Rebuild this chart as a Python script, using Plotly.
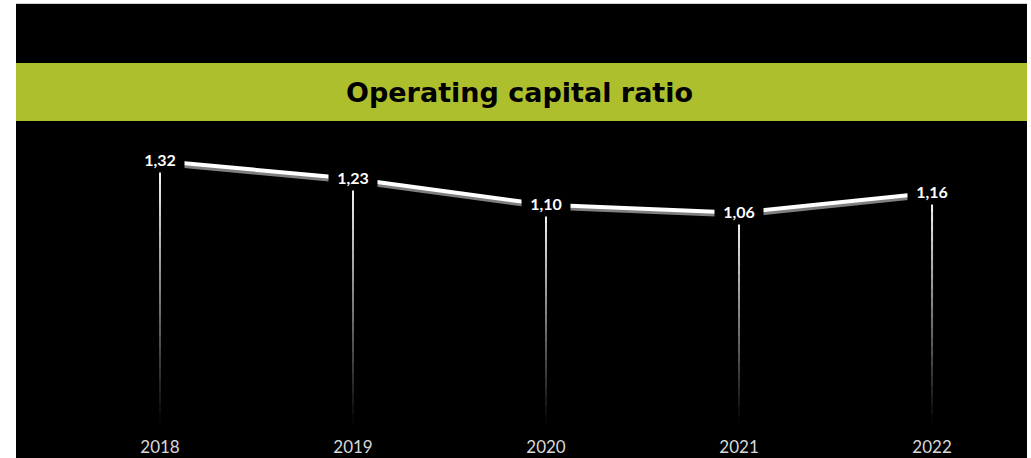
import plotly.graph_objects as go

# Operating capital ratio by year
years = ["2018", "2019", "2020", "2021", "2022"]
ratios = [1.32, 1.23, 1.10, 1.06, 1.16]
title_text = "Operating capital ratio"

W, H = 1031, 458
GREEN = "#AEBF2E"

fig = go.Figure()

# Drop lines from the baseline up to each value, fading from black to white
steps = 24
for k in range(steps):
    level = int(round(255 * (k + 0.5) / steps))
    col = f"rgb({level},{level},{level})"
    xs, ys = [], []
    for yr, v in zip(years, ratios):
        xs += [yr, yr, None]
        ys += [v * k / steps, v * min(k + 1.6, steps) / steps, None]
    fig.add_trace(go.Scatter(x=xs, y=ys, mode="lines",
                             line=dict(color=col, width=2),
                             hoverinfo="skip", showlegend=False))

# Soft grey shadow under the main line
shadow_offset = 0.014
fig.add_trace(go.Scatter(x=years, y=[v - shadow_offset for v in ratios], mode="lines",
                         line=dict(color="#7f7f7f", width=4),
                         hoverinfo="skip", showlegend=False))
# Main line
fig.add_trace(go.Scatter(x=years, y=ratios, mode="lines",
                         line=dict(color="#ffffff", width=4),
                         showlegend=False))

# Value labels on black boxes (category index positions)
for i, v in enumerate(ratios):
    fig.add_annotation(x=i, y=v, xref="x", yref="y",
                       text=f"<b>{v:.2f}</b>".replace(".", ","),
                       showarrow=False, bgcolor="#000000",
                       width=42, height=19, borderpad=3,
                       xanchor="center", yanchor="middle", yshift=1,
                       font=dict(family="Lato", size=16, color="#ffffff"))

# Title band
fig.add_annotation(x=519 / W, y=1 - 92 / H, xref="paper", yref="paper",
                   text=f"<b>{title_text}</b>", showarrow=False,
                   xanchor="center", yanchor="middle",
                   font=dict(family="DejaVu Sans", size=27, color="#000000"))

fig.update_layout(
    width=W, height=H,
    margin=dict(l=0, r=0, t=0, b=0),
    paper_bgcolor="#ffffff",
    plot_bgcolor="rgba(0,0,0,0)",
    shapes=[
        dict(type="rect", xref="paper", yref="paper", layer="below",
             x0=16 / W, x1=1027 / W, y0=0, y1=1 - 4 / H,
             fillcolor="#000000", line=dict(width=0)),
        dict(type="line", xref="paper", yref="paper", layer="below",
             x0=16 / W, x1=1027 / W, y0=1 - 3.5 / H, y1=1 - 3.5 / H,
             line=dict(color="#cfcfcf", width=1)),
        dict(type="rect", xref="paper", yref="paper", layer="below",
             x0=16 / W, x1=1027 / W, y0=1 - 121 / H, y1=1 - 63 / H,
             fillcolor=GREEN, line=dict(width=0)),
    ],
    xaxis=dict(domain=[16 / W, 1027 / W], range=[-0.746, 4.492],
               type="category", showgrid=False, zeroline=False, showline=False,
               ticks="", tickfont=dict(family="Lato", size=17, color="#d9d9d9"),
               ticklabelstandoff=11),
    yaxis=dict(domain=[(H - 424) / H, (H - 135) / H], range=[0, 1.45],
               showgrid=False, zeroline=False, showline=False,
               showticklabels=False, ticks=""),
)

fig.write_html("out.html")
